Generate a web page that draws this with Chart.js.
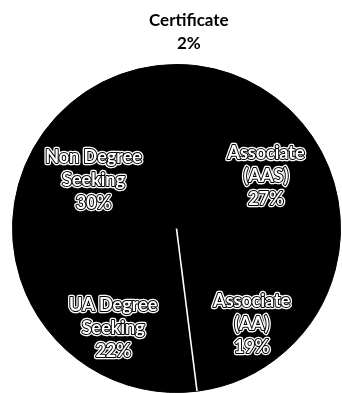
<!DOCTYPE html>
<html>
<head>
<meta charset="utf-8">
<script src="https://cdn.jsdelivr.net/npm/chart.js@4"></script>
<style>
  html, body { margin: 0; padding: 0; background: #fff; overflow: hidden; }
  #wrap { position: relative; width: 342px; height: 393px; }
</style>
</head>
<body>
<div id="wrap"><canvas id="pieChart"></canvas></div>
<script>
// data, clockwise from the top
const categories = ['Certificate', 'Associate (AAS)', 'Associate (AA)', 'UA Degree Seeking', 'Non Degree Seeking'];
const shares = [2, 27, 19, 22, 30];
const labelLines = [
    ['Certificate', '2%'],
    ['Associate', '(AAS)', '27%'],
    ['Associate', '(AA)', '19%'],
    ['UA Degree', 'Seeking', '22%'],
    ['Non Degree', 'Seeking', '30%']
];

// label placement: radius factor along the slice middle + small nudge
const labelPlace = [
    { f: 1.2, dx: 0, dy: 0, outside: true },
    { f: 0.63, dx: 4, dy: 6 },
    { f: 0.74, dx: -5, dy: 5 },
    { f: 0.72, dx: 0, dy: 0 },
    { f: 0.58, dx: -6, dy: 8 }
];

// only the edge between AA and UA shows as a white line
const splitLine = {
    id: 'splitLine',
    afterDatasetsDraw(chart) {
        const arc = chart.getDatasetMeta(0).data[3];
        const ctx = chart.ctx;
        const a = arc.startAngle;
        ctx.save();
        ctx.strokeStyle = '#fff';
        ctx.lineWidth = 1.6;
        ctx.beginPath();
        ctx.moveTo(arc.x, arc.y);
        ctx.lineTo(arc.x + Math.cos(a) * arc.outerRadius, arc.y + Math.sin(a) * arc.outerRadius);
        ctx.stroke();
        ctx.restore();
    }
};

const sliceLabels = {
    id: 'sliceLabels',
    afterDraw(chart) {
        const ctx = chart.ctx;
        const meta = chart.getDatasetMeta(0);
        ctx.save();
        ctx.textAlign = 'center';
        ctx.textBaseline = 'middle';
        ctx.lineJoin = 'round';
        meta.data.forEach((arc, i) => {
            const p = labelPlace[i];
            const mid = (arc.startAngle + arc.endAngle) / 2;
            const cx = arc.x + Math.cos(mid) * arc.outerRadius * p.f + p.dx;
            const cy = arc.y + Math.sin(mid) * arc.outerRadius * p.f + p.dy;
            const lines = labelLines[i];
            const lh = 23;
            ctx.font = p.outside ? 'bold 17px Lato, "DejaVu Sans", sans-serif'
                                 : 'bold 18px Lato, "DejaVu Sans", sans-serif';
            lines.forEach((t, k) => {
                const y = cy + (k - (lines.length - 1) / 2) * lh;
                if (p.outside) {
                    ctx.fillStyle = '#000';
                    ctx.fillText(t, cx, y);
                } else {
                    ctx.strokeStyle = '#fff';
                    ctx.lineWidth = 4.5;
                    ctx.strokeText(t, cx, y);
                    ctx.strokeStyle = '#000';
                    ctx.lineWidth = 2;
                    ctx.strokeText(t, cx, y);
                    ctx.fillStyle = '#fff';
                    ctx.fillText(t, cx, y);
                }
            });
        });
        ctx.restore();
    }
};

document.addEventListener('DOMContentLoaded', () => {
    const ctx = document.getElementById('pieChart').getContext('2d');
    new Chart(ctx, {
        type: 'pie',
        data: {
            labels: categories,
            datasets: [{
                data: shares,
                backgroundColor: '#000',
                borderColor: '#000',
                borderWidth: 1
            }]
        },
        options: {
            responsive: true,
            maintainAspectRatio: false,
            animation: false,
            layout: { padding: { top: 64, left: 11, right: 0, bottom: -3 } },
            plugins: {
                legend: { display: false },
                tooltip: { enabled: false }
            }
        },
        plugins: [splitLine, sliceLabels]
    });
});
</script>
</body>
</html>
